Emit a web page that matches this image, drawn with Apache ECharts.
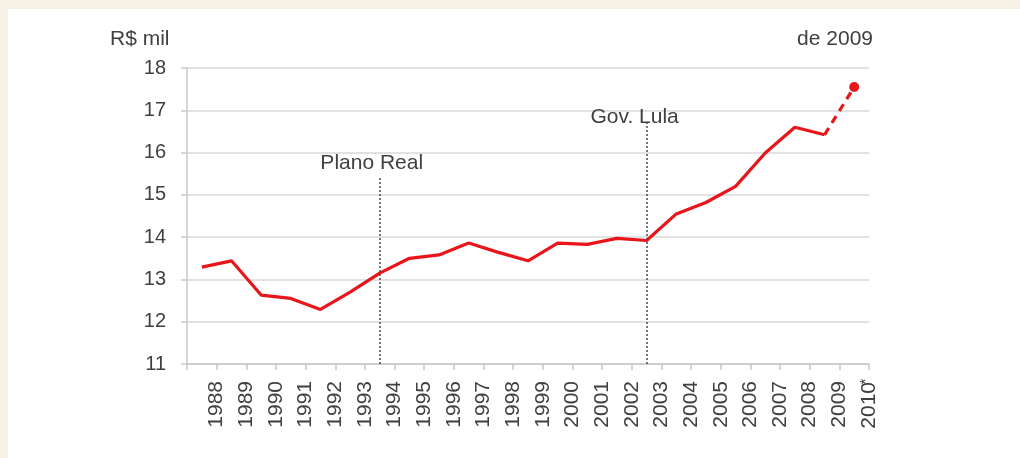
<!DOCTYPE html>
<html>
<head>
<meta charset="utf-8">
<script src="https://cdn.jsdelivr.net/npm/echarts@6/dist/echarts.min.js"></script>
<style>
html,body{margin:0;padding:0;background:#f5f1e4;width:1020px;height:458px;overflow:hidden;}
#panel{position:absolute;left:8px;top:9px;width:1012px;height:449px;background:#ffffff;}
#chart{position:absolute;left:0;top:0;width:1020px;height:458px;}
</style>
</head>
<body>
<div id="panel"></div>
<div id="chart"></div>
<script>
const years = ['1988','1989','1990','1991','1992','1993','1994','1995','1996','1997','1998','1999','2000','2001','2002','2003','2004','2005','2006','2007','2008','2009','2010*'];
const incomeObserved = [13.29,13.44,12.63,12.55,12.29,12.70,13.15,13.50,13.58,13.86,13.64,13.44,13.86,13.83,13.97,13.92,14.55,14.82,15.20,15.99,16.60,16.42,null];
const incomeProjected = [null,null,null,null,null,null,null,null,null,null,null,null,null,null,null,null,null,null,null,null,null,16.42,17.55];
const yTicks = {min:11, max:18, interval:1};
const events = [
  {year:'1994', label:'Plano Real', top:15.42},
  {year:'2003', label:'Gov. Lula', top:16.77}
];
const unitLabel = 'R$ mil';
const baseLabel = 'de 2009';

const FONT = 'Liberation Sans, Arial, sans-serif';
const TXT = '#404040';
const RED = '#e8151b';

// label axis: labels sit on the category boundaries (right edge of each year)
const boundaryLabels = [''].concat(years);

const chart = echarts.init(document.getElementById('chart'), null, {renderer:'canvas'});
chart.setOption({
  backgroundColor: 'transparent',
  animation: false,
  title: [
    {text: unitLabel, left: 105, top: 24, textStyle:{fontFamily:FONT, fontSize:21, fontWeight:'normal', color:TXT}},
    {text: baseLabel, right: 142, top: 24, textStyle:{fontFamily:FONT, fontSize:21, fontWeight:'normal', color:TXT}}
  ],
  grid: {left:187, right:151, top:68, bottom:94, containLabel:false},
  xAxis: [
    {
      type:'category',
      data: years,
      boundaryGap: true,
      axisLine:{show:true, lineStyle:{color:'#c8c8c8', width:1.5}},
      axisTick:{show:true, length:6, interval:0, lineStyle:{color:'#c8c8c8', width:1.5}},
      axisLabel:{show:false},
      splitLine:{show:false}
    },
    {
      type:'category',
      position:'bottom',
      data: boundaryLabels,
      boundaryGap: false,
      axisLine:{show:false},
      axisTick:{show:false},
      axisLabel:{
        interval:0, rotate:90, margin:17, fontFamily:FONT, fontSize:21, color:TXT,
        formatter: function (v) {
          if (v.indexOf('*') >= 0) { return '{d|' + v.replace('*','') + '}{s|*}'; }
          return '{d|' + v + '}';
        },
        rich: {
          d: {fontFamily:FONT, fontSize:21, color:TXT},
          s: {fontFamily:FONT, fontSize:15, color:TXT, verticalAlign:'top', width:1, align:'left'}
        }
      },
      splitLine:{show:false}
    }
  ],
  yAxis: {
    type:'value',
    min: yTicks.min, max: yTicks.max, interval: yTicks.interval,
    axisLine:{show:true, lineStyle:{color:'#c8c8c8', width:1.5}},
    axisTick:{show:true, length:6, lineStyle:{color:'#c8c8c8', width:1.5}},
    axisLabel:{margin:21, fontFamily:FONT, fontSize:20, color:TXT},
    splitLine:{show:true, lineStyle:{color:'#d9d9d9', width:1.5}}
  },
  series: [
    {
      type:'line',
      xAxisIndex:0,
      data: incomeObserved,
      showSymbol:false,
      symbol:'none',
      lineStyle:{color:RED, width:3.2},
      itemStyle:{color:RED},
      z:3,
      markLine:{
        silent:true,
        symbol:['none','none'],
        lineStyle:{color:'#4a4a4a', width:1.5, type:[2,2]},
        label:{show:true, position:'end', fontFamily:FONT, fontSize:21, color:TXT},
        data: events.map((e,i)=>[
          {coord:[e.year, yTicks.min], label:{formatter:e.label, offset: i===0?[-8,0]:[-12,0], distance: i===0?3:-8}},
          {coord:[e.year, e.top]}
        ])
      }
    },
    {
      type:'line',
      xAxisIndex:0,
      data: incomeProjected.map((v,i)=> i===incomeProjected.length-1 ? {value:v, symbol:'circle', symbolSize:10} : {value:v, symbol:'none'}),
      showSymbol:true,
      lineStyle:{color:RED, width:3.2, type:[8,6]},
      itemStyle:{color:RED},
      z:2
    }
  ]
});
</script>
</body>
</html>
